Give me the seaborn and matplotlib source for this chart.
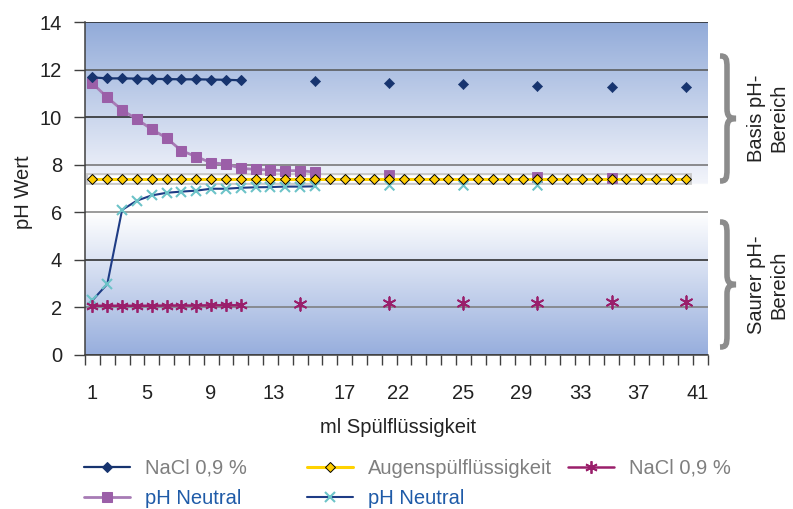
import numpy as np
import seaborn as sns
import matplotlib.pyplot as plt
from matplotlib.path import Path
from matplotlib.patches import PathPatch
from matplotlib.colors import to_rgb

sns.set_theme(style="white")
plt.rcParams['font.family'] = ['Liberation Sans', 'DejaVu Sans']

# x axis: 42 categories; the printed labels sit at hand placed positions
n_cat = 42
x_tick_labels = ["1", "5", "9", "13", "17", "22", "25", "29", "33", "37", "41"]
x_tick_pos = [0, 3.7, 8.0, 12.2, 17.0, 20.6, 25.0, 28.9, 32.9, 36.8, 40.8]

# NaCl 0,9 % (basic range)
nacl_idx = [0, 1, 2, 3, 4, 5, 6, 7, 8, 9, 10]
nacl_ph = [11.67, 11.63, 11.63, 11.62, 11.61, 11.60, 11.59, 11.59, 11.58, 11.57, 11.55]
nacl_pt_idx = [15, 20, 25, 30, 35, 40]
nacl_pt_ph = [11.50, 11.42, 11.38, 11.33, 11.27, 11.25]

# pH Neutral (purple squares)
neut_idx = [0, 1, 2, 3, 4, 5, 6, 7, 8, 9, 10, 11, 12, 13, 14, 15]
neut_ph = [11.42, 10.83, 10.30, 9.91, 9.49, 9.12, 8.59, 8.34, 8.08, 8.03,
           7.85, 7.80, 7.78, 7.75, 7.75, 7.69]
neut_pt_idx = [20, 30, 35]
neut_pt_ph = [7.57, 7.49, 7.43]

# Augenspülflüssigkeit
aug_idx = list(range(41))
aug_ph = [7.4, 7.4, 7.4, 7.4, 7.4, 7.4, 7.4, 7.4, 7.4, 7.4, 7.4, 7.4, 7.4, 7.4,
          7.4, 7.4, 7.4, 7.4, 7.4, 7.4, 7.4, 7.4, 7.4, 7.4, 7.4, 7.4, 7.4, 7.4,
          7.4, 7.4, 7.4, 7.4, 7.4, 7.4, 7.4, 7.4, 7.4, 7.4, 7.4, 7.4, 7.4]

# NaCl 0,9 % (acid range)
nacl2_idx = [0, 1, 2, 3, 4, 5, 6, 7, 8, 9, 10]
nacl2_ph = [2.07, 2.07, 2.07, 2.07, 2.07, 2.08, 2.08, 2.08, 2.09, 2.09, 2.09]
nacl2_pt_idx = [14, 20, 25, 30, 35, 40]
nacl2_pt_ph = [2.13, 2.18, 2.18, 2.20, 2.23, 2.23]

# pH Neutral (cyan crosses)
neut2_idx = [0, 1, 2, 3, 4, 5, 6, 7, 8, 9, 10, 11, 12, 13, 14, 15]
neut2_ph = [2.30, 2.98, 6.10, 6.49, 6.71, 6.82, 6.87, 6.91, 6.99, 6.99,
            7.03, 7.05, 7.06, 7.08, 7.08, 7.09]
neut2_pt_idx = [20, 25, 30]
neut2_pt_ph = [7.15, 7.15, 7.15]

FS = 14.5
W, H = 793, 509
fig = plt.figure(figsize=(W / 100, H / 100), dpi=100)
ax = fig.add_axes([85 / W, 1 - 355 / H, 623 / W, 333 / H])

# gradient background
ys = np.linspace(0, 14, 700)
top_c, light_c = np.array(to_rgb('#92abd9')), np.array(to_rgb('#f3f5fb'))
bot_c, white = np.array(to_rgb('#97aedd')), np.ones(3)
grad = np.zeros((len(ys), 3))
for i, y in enumerate(ys):
    if y >= 7.2:
        t = (y - 7.2) / 6.8
        grad[i] = light_c + (top_c - light_c) * t
    elif y >= 6:
        grad[i] = white
    else:
        t = (6 - y) / 6
        grad[i] = white + (bot_c - white) * t
ax.imshow(grad[:, None, :], extent=(-0.5, n_cat - 0.5, 0, 14), origin='lower',
          aspect='auto', zorder=0, interpolation='bilinear')

# grey band behind the yellow series
ax.plot(aug_idx, aug_ph, color='#c8c8c8', lw=8.5, solid_capstyle='projecting', zorder=2.5)
ax.plot(aug_idx, aug_ph, color='white', lw=5.5, solid_capstyle='projecting', zorder=2.6)

# purple series
sns.lineplot(x=neut_idx, y=neut_ph, ax=ax, color='#a77bb5', lw=2, marker='s',
             markersize=7.5, markerfacecolor='#9b5fa8', markeredgecolor='#9b5fa8',
             label='pH Neutral', legend=False, zorder=3)
sns.scatterplot(x=neut_pt_idx, y=neut_pt_ph, ax=ax, marker='s', s=7.5 ** 2,
                color='#9b5fa8', edgecolor='#9b5fa8', legend=False, zorder=3)

# cyan series
sns.lineplot(x=neut2_idx, y=neut2_ph, ax=ax, color='#1e3c85', lw=1.5, marker='x',
             markersize=7, markeredgecolor='#6cc3c8', markeredgewidth=1.5,
             label='pH Neutral', legend=False, zorder=3)
sns.scatterplot(x=neut2_pt_idx, y=neut2_pt_ph, ax=ax, marker='x', s=49,
                color='#6cc3c8', linewidth=1.5, legend=False, zorder=3)

# yellow series
sns.lineplot(x=aug_idx, y=aug_ph, ax=ax, color='#ffd200', lw=2.2, marker='D',
             markersize=5.2, markerfacecolor='#ffcc00', markeredgecolor='black',
             markeredgewidth=0.7, label='Augenspülflüssigkeit', legend=False, zorder=4)

# navy NaCl
sns.lineplot(x=nacl_idx, y=nacl_ph, ax=ax, color='#17346f', lw=1.6, marker='D',
             markersize=5.2, markerfacecolor='#17346f', markeredgecolor='#17346f',
             label='NaCl 0,9 %', legend=False, zorder=5)
sns.scatterplot(x=nacl_pt_idx, y=nacl_pt_ph, ax=ax, marker='D', s=5.2 ** 2,
                color='#17346f', edgecolor='#17346f', legend=False, zorder=5)

# magenta NaCl
ast = (6, 2, 0)
sns.lineplot(x=nacl2_idx, y=nacl2_ph, ax=ax, color='#9a1f6b', lw=1.8, marker=ast,
             markersize=9, markeredgecolor='#9a1f6b', markeredgewidth=1.3,
             label='NaCl 0,9 %', legend=False, zorder=5)
sns.scatterplot(x=nacl2_pt_idx, y=nacl2_pt_ph, ax=ax, marker=ast, s=81,
                color='#9a1f6b', edgecolor='#9a1f6b', linewidth=1.3, legend=False, zorder=5)

# axes
ax.set_xlim(-0.5, n_cat - 0.5)
ax.set_ylim(0, 14)
ax.set_yticks(range(0, 15, 2))
ax.set_xticks(x_tick_pos)
ax.set_xticklabels(x_tick_labels)
ax.set_xticks(np.arange(-0.5, n_cat, 1), minor=True)
ax.set_axisbelow(True)
ax.yaxis.grid(True, lw=1.1)
grid_cols = ['#333333', '#7a7a7a', '#222222', '#808080', '#707070', '#222222', '#555555', '#222222']
for gl, c in zip(ax.get_ygridlines(), grid_cols):
    gl.set_color(c)
ax.xaxis.grid(False)
for s in ['top', 'right']:
    ax.spines[s].set_visible(False)
for s in ['left', 'bottom']:
    ax.spines[s].set_color('#404040')
    ax.spines[s].set_linewidth(1.1)
    ax.spines[s].set_zorder(6)

ax.tick_params(axis='y', left=True, direction='out', length=8, width=1,
               color='#404040', labelsize=FS, pad=8.5, labelcolor='#222222')
ax.tick_params(axis='x', which='major', bottom=True, length=0, pad=21,
               labelsize=FS, labelcolor='#222222')
ax.tick_params(axis='x', which='minor', bottom=True, direction='out', length=7.2,
               width=1, color='#404040')

ax.set_ylabel('pH Wert', fontsize=FS, color='#222222')
ax.yaxis.set_label_coords(-0.083, 0.49)
ax.set_xlabel('ml Spülflüssigkeit', fontsize=FS, color='#222222')
ax.xaxis.set_label_coords(0.503, -0.19)

# legends, one per column
h, _ = ax.get_legend_handles_labels()
# h: neut, neut2, aug, nacl, nacl2
cols = [([h[3], h[0]], ['NaCl 0,9 %', 'pH Neutral'], ['#7f7f7f', '#1f5ba8'], 84),
        ([h[2], h[1]], ['Augenspülflüssigkeit', 'pH Neutral'], ['#7f7f7f', '#1f5ba8'], 307),
        ([h[4]], ['NaCl 0,9 %'], ['#7f7f7f'], 568)]
for hs, ls, cs, xp in cols:
    leg = fig.legend(hs, ls, loc='upper left', bbox_to_anchor=(xp / W, 1 - 459 / H),
                     frameon=False, fontsize=FS, handlelength=2.3, handletextpad=0.75,
                     labelspacing=0.55, borderpad=0, borderaxespad=0)
    for t, c in zip(leg.get_texts(), cs):
        t.set_color(c)


def brace(y_top, y_bot, x_end=720, x_v=727, x_tip=736):
    ym = (y_top + y_bot) / 2
    pts = [(x_end, y_top),
           (x_v - 1, y_top), (x_v, y_top + 2), (x_v, y_top + 12),
           (x_v, ym - 10),
           (x_v, ym - 3), (x_v + 2, ym), (x_tip, ym),
           (x_v + 2, ym), (x_v, ym + 3), (x_v, ym + 10),
           (x_v, y_bot - 12),
           (x_v, y_bot - 2), (x_v - 1, y_bot), (x_end, y_bot)]
    codes = [Path.MOVETO] + [Path.CURVE4] * 3 + [Path.LINETO] + [Path.CURVE4] * 6 + \
            [Path.LINETO] + [Path.CURVE4] * 3
    verts = [(x / W, 1 - y / H) for x, y in pts]
    fig.patches.append(PathPatch(Path(verts, codes), transform=fig.transFigure,
                                 fill=False, lw=4, ec='#8c8c8c', capstyle='butt'))


brace(56, 181)
brace(222, 347)
fig.text(768 / W, 1 - 118 / H, 'Basis pH-\nBereich', rotation=90, ha='center',
         va='center', multialignment='center', fontsize=FS, color='#222222')
fig.text(768 / W, 1 - 285 / H, 'Saurer pH-\nBereich', rotation=90, ha='center',
         va='center', multialignment='center', fontsize=FS, color='#222222')

fig.savefig('out.png', dpi=100)
